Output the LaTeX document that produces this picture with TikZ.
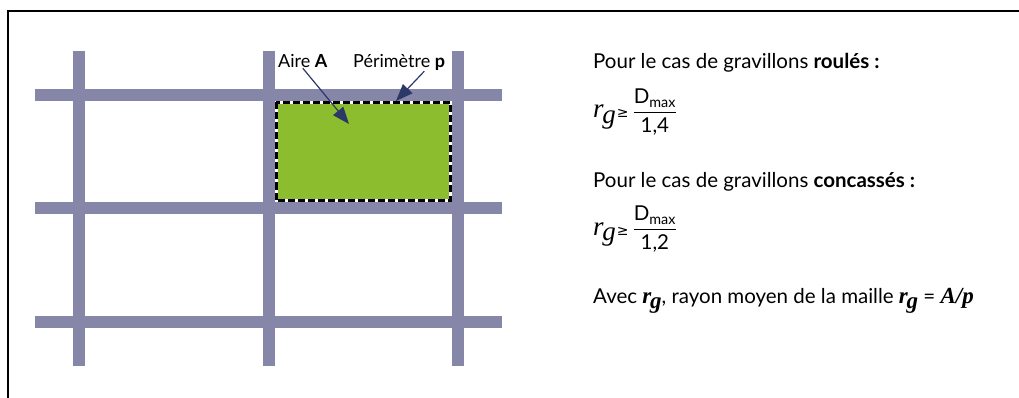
\documentclass[tikz,border=0pt]{standalone}
\usepackage{amsmath}
\usepackage{fontspec}
\setmainfont{Lato}
\newfontfamily\serifit{Liberation Serif}
\newfontfamily\simb{DejaVu Sans}
\usepackage{xcolor}
\usetikzlibrary{arrows.meta}

\definecolor{grigio}{RGB}{134,134,168}
\definecolor{verde}{RGB}{139,189,47}
\definecolor{blu}{RGB}{43,56,104}

\newcommand{\rgcorsivo}{{\serifit\itshape\fontsize{27}{27}\selectfont r\kern-0.05em\raisebox{-0.22em}{g}}}
\newcommand{\rggras}{{\serifit\bfseries\itshape\fontsize{23}{23}\selectfont r\kern-0.05em\raisebox{-0.22em}{g}}}
\newcommand{\segno}{\kern1pt{\simb\fontsize{14}{14}\selectfont ≥}\kern4pt}

\tikzset{
  barra/.style={line width=12pt, draw=grigio},
  testo/.style={font=\fontsize{20.5}{25}\selectfont, inner sep=0pt, anchor=base west},
  etich/.style={font=\fontsize{18}{22}\selectfont, inner sep=0pt, anchor=base west},
}

\begin{document}
\begin{tikzpicture}[x=1pt, y=-1pt, >={Triangle[length=17pt,width=13pt]}, line join=miter]
\useasboundingbox (0,0) rectangle (1019,398);

% Cornice
\draw[line width=2pt] (8,398) -- (8,11) -- (1019,11);

% Griglia
\foreach \y in {95,207.5,322} \draw[barra] (35,\y) -- (502,\y);
\foreach \x in {79,269,457.5} \draw[barra] (\x,51) -- (\x,366);

% Maglia
\fill[verde] (276,102.5) rectangle (450,200.5);
\draw[white, line width=3pt] (276,102.5) rectangle (450,200.5);
\draw[black, line width=3pt, dash pattern=on 7pt off 3pt] (276,102.5) rectangle (450,200.5);

% Etichette
\node[etich] (aire) at (278,68) {Aire \textbf{A}};
\node[etich] (perim) at (353,68) {Périmètre \textbf{p}};
\coordinate (centro) at (349,124);
\coordinate (bordo) at (396,101);
\draw[->, blu, line width=1.2pt] (aire.south) -- (centro);
\draw[->, blu, line width=1.2pt] ([xshift=-21pt]perim.south east) -- (bordo);

% Formule
\node[testo] (roules) at (593,69) {Pour le cas de gravillons \textbf{roulés :}};
\node[testo] (f1) at (593,118) {\rgcorsivo\segno$\dfrac{\text{D}_{\text{max}}}{\text{1,4}}$};
\node[testo] (concasses) at (593,187) {Pour le cas de gravillons \textbf{concassés :}};
\node[testo] (f2) at (593,235) {\rgcorsivo\segno$\dfrac{\text{D}_{\text{max}}}{\text{1,2}}$};
\node[testo] (avec) at (593,303) {Avec \rggras, rayon moyen de la maille \rggras{} = {\serifit\bfseries\itshape\fontsize{23}{23}\selectfont A/p}};

\end{tikzpicture}
\end{document}
